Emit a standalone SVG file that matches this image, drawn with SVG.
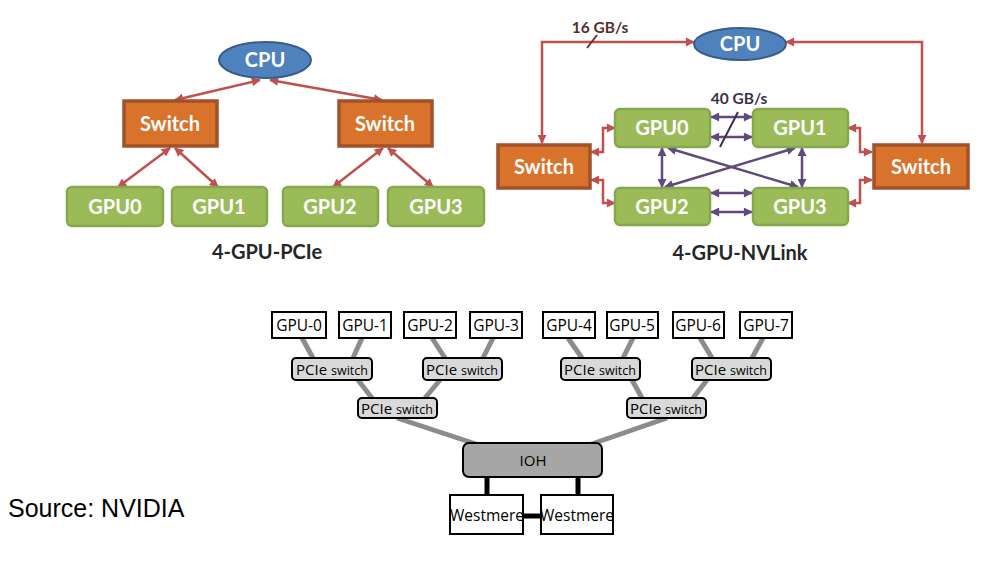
<svg xmlns="http://www.w3.org/2000/svg" width="994" height="562" viewBox="0 0 994 562">
<style>
.cpu{fill:#4f81bd;stroke:#385d8a;stroke-width:2}
.sw{fill:#d9722b;stroke:#a0522d;stroke-width:3.5}
.gpu{fill:#9bbb59;stroke:#86a84c;stroke-width:2.5}
.wt{font-family:Lato,"Open Sans",sans-serif;font-weight:bold;font-size:20px;fill:#fff;text-anchor:middle}
.cap{font-family:Lato,"Open Sans",sans-serif;font-weight:bold;font-size:20px;fill:#262626;text-anchor:middle}
.red{fill:none;stroke:#c0504d;stroke-width:2.5;marker-start:url(#ar);marker-end:url(#ar)}
.pur{fill:none;stroke:#604a7b;stroke-width:2.5;marker-start:url(#ap);marker-end:url(#ap)}
.gl{stroke:#8c8c8c;stroke-width:5;fill:none}
.bx{fill:#fff;stroke:#000;stroke-width:2}
.ps{fill:#d9d9d9;stroke:#000;stroke-width:2}
.bt{font-family:"Open Sans","DejaVu Sans",sans-serif;font-size:15.5px;fill:#000;text-anchor:middle}
.pt{font-family:"Open Sans","DejaVu Sans",sans-serif;font-size:15px;fill:#000;text-anchor:middle}
.pt tspan.s{font-size:12.5px}
</style>
<defs>
<marker id="ar" viewBox="0 0 10 10" refX="9" refY="5" markerWidth="10" markerHeight="9" markerUnits="userSpaceOnUse" orient="auto-start-reverse"><path d="M0,0 L10,5 L0,10 z" fill="#c0504d"/></marker>
<marker id="ap" viewBox="0 0 10 10" refX="9" refY="5" markerWidth="10" markerHeight="9" markerUnits="userSpaceOnUse" orient="auto-start-reverse"><path d="M0,0 L10,5 L0,10 z" fill="#604a7b"/></marker>
</defs>

<!-- connectors -->
<g id="connectors">
<line class="red" x1="260" y1="80" x2="175" y2="100"/>
<line class="red" x1="270" y1="80" x2="382" y2="100"/>
<line class="red" x1="170" y1="148" x2="118" y2="187"/>
<line class="red" x1="175" y1="148" x2="218" y2="187"/>
<line class="red" x1="383" y1="148" x2="333" y2="187"/>
<line class="red" x1="388" y1="148" x2="433" y2="187"/>

<polyline class="red" points="542,143 542,42 694,42"/>
<polyline class="red" points="786,42 922,42 922,143"/>
<polyline class="red" points="591,152 603,152 603,128 615,128"/>
<polyline class="red" points="591,180 603,180 603,203 615,203"/>
<polyline class="red" points="848,128 860,128 860,152 872,152"/>
<polyline class="red" points="848,203 860,203 860,180 872,180"/>
<line x1="587" y1="48" x2="597" y2="35" stroke="#6b2f2f" stroke-width="2"/>

<line class="pur" x1="711" y1="117" x2="752" y2="117"/>
<line class="pur" x1="711" y1="137" x2="752" y2="137"/>
<line class="pur" x1="711" y1="193" x2="752" y2="193"/>
<line class="pur" x1="711" y1="212" x2="752" y2="212"/>
<line class="pur" x1="662" y1="148" x2="662" y2="187"/>
<line class="pur" x1="802" y1="148" x2="802" y2="187"/>
<line class="pur" x1="668" y1="148" x2="798" y2="187"/>
<line class="pur" x1="795" y1="148" x2="665" y2="187"/>
<line x1="720" y1="147" x2="738" y2="112" stroke="#3d3050" stroke-width="2"/>

<line class="gl" x1="302" y1="338" x2="313" y2="358"/>
<line class="gl" x1="362" y1="338" x2="353" y2="358"/>
<line class="gl" x1="432" y1="338" x2="445" y2="358"/>
<line class="gl" x1="493" y1="338" x2="483" y2="358"/>
<line class="gl" x1="568" y1="338" x2="582" y2="358"/>
<line class="gl" x1="633" y1="338" x2="623" y2="358"/>
<line class="gl" x1="700" y1="338" x2="712" y2="358"/>
<line class="gl" x1="763" y1="338" x2="752" y2="358"/>
<line class="gl" x1="358" y1="380" x2="372" y2="398"/>
<line class="gl" x1="440" y1="380" x2="425" y2="398"/>
<line class="gl" x1="632" y1="380" x2="642" y2="398"/>
<line class="gl" x1="707" y1="380" x2="693" y2="398"/>
<line class="gl" x1="397" y1="418" x2="482" y2="446"/>
<line class="gl" x1="667" y1="418" x2="586" y2="446"/>
<line x1="487" y1="477" x2="487" y2="495" stroke="#000" stroke-width="5"/>
<line x1="578" y1="477" x2="578" y2="495" stroke="#000" stroke-width="5"/>
<line x1="523" y1="516" x2="541" y2="516" stroke="#000" stroke-width="5"/>
</g>

<!-- 4-GPU-PCIe -->
<g id="pcie-cpu"><ellipse class="cpu" cx="265" cy="60" rx="46" ry="18"/><text class="wt" x="265" y="67" font-size="19">CPU</text></g>
<g id="pcie-switch-l"><rect class="sw" x="124" y="101" width="93" height="45"/><text class="wt" x="170" y="131">Switch</text></g>
<g id="pcie-switch-r"><rect class="sw" x="339" y="101" width="93" height="45"/><text class="wt" x="385" y="131">Switch</text></g>
<g id="pcie-gpu0"><rect class="gpu" x="67" y="187" width="96" height="39" rx="5"/><text class="wt" x="115" y="214">GPU0</text></g>
<g id="pcie-gpu1"><rect class="gpu" x="172" y="187" width="95" height="39" rx="5"/><text class="wt" x="219" y="214">GPU1</text></g>
<g id="pcie-gpu2"><rect class="gpu" x="283" y="187" width="95" height="39" rx="5"/><text class="wt" x="330" y="214">GPU2</text></g>
<g id="pcie-gpu3"><rect class="gpu" x="388" y="187" width="96" height="39" rx="5"/><text class="wt" x="436" y="214">GPU3</text></g>
<text class="cap" x="267" y="259" font-size="19">4-GPU-PCIe</text>

<!-- 4-GPU-NVLink -->
<g id="nv-cpu"><ellipse class="cpu" cx="740" cy="44" rx="46" ry="16"/><text class="wt" x="740" y="51" font-size="19">CPU</text></g>
<g id="nv-switch-l"><rect class="sw" x="498" y="145" width="92" height="43"/><text class="wt" x="544" y="174">Switch</text></g>
<g id="nv-switch-r"><rect class="sw" x="874" y="145" width="94" height="43"/><text class="wt" x="921" y="174">Switch</text></g>
<g id="nv-gpu0"><rect class="gpu" x="615" y="109" width="95" height="38" rx="5"/><text class="wt" x="662" y="135">GPU0</text></g>
<g id="nv-gpu1"><rect class="gpu" x="753" y="109" width="95" height="38" rx="5"/><text class="wt" x="800" y="135">GPU1</text></g>
<g id="nv-gpu2"><rect class="gpu" x="615" y="188" width="95" height="37" rx="5"/><text class="wt" x="662" y="214">GPU2</text></g>
<g id="nv-gpu3"><rect class="gpu" x="753" y="188" width="95" height="37" rx="5"/><text class="wt" x="800" y="214">GPU3</text></g>
<text x="600" y="33" font-family="Lato,'Open Sans',sans-serif" font-weight="bold" font-size="15.5" fill="#5a2d2d" text-anchor="middle">16 GB/s</text>
<text x="739" y="104" font-family="Lato,'Open Sans',sans-serif" font-weight="bold" font-size="15.5" fill="#3d3050" text-anchor="middle">40 GB/s</text>
<text class="cap" x="740" y="260" font-size="19">4-GPU-NVLink</text>

<!-- 8-GPU tree -->
<g id="gpu-0"><rect class="bx" x="272" y="312" width="54" height="26"/><text class="bt" x="299" y="331">GPU-0</text></g>
<g id="gpu-1"><rect class="bx" x="339" y="312" width="52" height="26"/><text class="bt" x="365" y="331">GPU-1</text></g>
<g id="gpu-2"><rect class="bx" x="404" y="312" width="52" height="26"/><text class="bt" x="430" y="331">GPU-2</text></g>
<g id="gpu-3"><rect class="bx" x="470" y="312" width="52" height="26"/><text class="bt" x="496" y="331">GPU-3</text></g>
<g id="gpu-4"><rect class="bx" x="543" y="312" width="52" height="26"/><text class="bt" x="569" y="331">GPU-4</text></g>
<g id="gpu-5"><rect class="bx" x="607" y="312" width="51" height="26"/><text class="bt" x="632" y="331">GPU-5</text></g>
<g id="gpu-6"><rect class="bx" x="673" y="312" width="51" height="26"/><text class="bt" x="698" y="331">GPU-6</text></g>
<g id="gpu-7"><rect class="bx" x="740" y="312" width="52" height="26"/><text class="bt" x="766" y="331">GPU-7</text></g>
<g id="pcie-sw-a"><rect class="ps" x="292" y="358" width="80" height="22" rx="4"/><text class="pt" x="332" y="374.5">PCIe <tspan class="s">switch</tspan></text></g>
<g id="pcie-sw-b"><rect class="ps" x="423" y="358" width="79" height="22" rx="4"/><text class="pt" x="462" y="374.5">PCIe <tspan class="s">switch</tspan></text></g>
<g id="pcie-sw-c"><rect class="ps" x="561" y="358" width="79" height="22" rx="4"/><text class="pt" x="600" y="374.5">PCIe <tspan class="s">switch</tspan></text></g>
<g id="pcie-sw-d"><rect class="ps" x="692" y="358" width="79" height="22" rx="4"/><text class="pt" x="731" y="374.5">PCIe <tspan class="s">switch</tspan></text></g>
<g id="pcie-sw-e"><rect class="ps" x="358" y="398" width="79" height="20" rx="4"/><text class="pt" x="397" y="413.5">PCIe <tspan class="s">switch</tspan></text></g>
<g id="pcie-sw-f"><rect class="ps" x="627" y="398" width="79" height="20" rx="4"/><text class="pt" x="666" y="413.5">PCIe <tspan class="s">switch</tspan></text></g>
<g id="ioh"><rect x="463" y="443" width="139" height="34" rx="6" fill="#a6a6a6" stroke="#000" stroke-width="2"/><text class="pt" x="533" y="466">IOH</text></g>
<g id="westmere-l"><rect class="bx" x="450" y="495" width="73" height="39"/><text class="bt" x="487" y="521" font-size="15.5">Westmere</text></g>
<g id="westmere-r"><rect class="bx" x="541" y="495" width="72" height="39"/><text class="bt" x="577" y="521" font-size="15.5">Westmere</text></g>

<text x="8" y="517" font-family="'Liberation Sans',Arial,sans-serif" font-size="25" fill="#000">Source: NVIDIA</text>
</svg>
